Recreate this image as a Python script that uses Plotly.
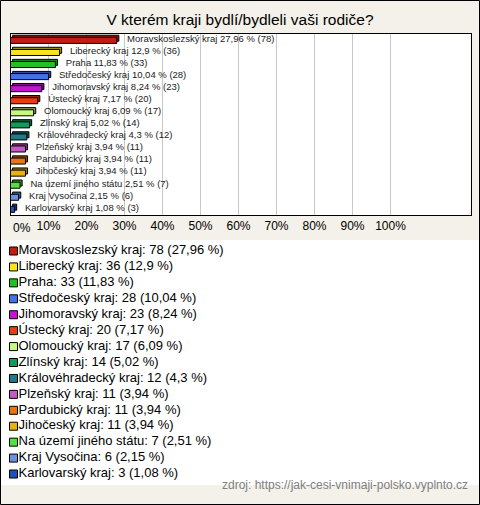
import plotly.graph_objects as go

W, H = 480, 505

categories = [
    "Moravskoslezský kraj", "Liberecký kraj", "Praha", "Středočeský kraj",
    "Jihomoravský kraj", "Ústecký kraj", "Olomoucký kraj", "Zlínský kraj",
    "Královéhradecký kraj", "Plzeňský kraj", "Pardubický kraj", "Jihočeský kraj",
    "Na území jiného státu", "Kraj Vysočina", "Karlovarský kraj",
]
counts = [78, 36, 33, 28, 23, 20, 17, 14, 12, 11, 11, 11, 7, 6, 3]
percents = [27.96, 12.9, 11.83, 10.04, 8.24, 7.17, 6.09, 5.02, 4.3, 3.94, 3.94, 3.94, 2.51, 2.15, 1.08]
percent_labels = ["27,96", "12,9", "11,83", "10,04", "8,24", "7,17", "6,09", "5,02",
                  "4,3", "3,94", "3,94", "3,94", "2,51", "2,15", "1,08"]
colors = ["#c41c12", "#f6e61e", "#22c022", "#4472e6", "#c414d0", "#e63e12", "#c8f884",
          "#129a5a", "#1f7a8a", "#c45ac4", "#e87412", "#e6b214", "#52e240", "#6a92e0", "#2252b8"]
tick_values = [0, 10, 20, 30, 40, 50, 60, 70, 80, 90, 100]
tick_labels = ["0%", "10%", "20%", "30%", "40%", "50%", "60%", "70%", "80%", "90%", "100%"]
title_text = "V kterém kraji bydlí/bydleli vaši rodiče?"
source_text = "zdroj: https://jak-cesi-vnimaji-polsko.vyplnto.cz"

FONT = "Liberation Sans, Arial, sans-serif"


def darker(hx, f=0.65):
    r, g, b = int(hx[1:3], 16), int(hx[3:5], 16), int(hx[5:7], 16)
    return "rgb(%d,%d,%d)" % (r * f, g * f, b * f)


bar_texts = ["%s %s %% (%d)" % (c, p, n) for c, p, n in zip(categories, percent_labels, counts)]
legend_texts = ["%s: %d (%s %%)" % (c, n, p) for c, p, n in zip(categories, percent_labels, counts)]
idx = list(range(len(categories)))

fig = go.Figure()

# depth (3D) bars behind
fig.add_trace(go.Bar(
    y=idx, x=percents, base=0.55, orientation="h",
    width=0.5, offset=-0.4,
    marker=dict(color=[darker(c) for c in colors], line=dict(color="black", width=1)),
    text=["  " + t for t in bar_texts], textposition="outside", constraintext="none",
    textfont=dict(family=FONT, size=9.5, color="#222"),
    cliponaxis=False, hoverinfo="skip", showlegend=False,
))
# front bars
fig.add_trace(go.Bar(
    y=idx, x=percents, orientation="h",
    width=0.5, offset=-0.22,
    marker=dict(color=colors, line=dict(color="black", width=1)),
    showlegend=False,
))

# legend drawn in a second axis system
fig.add_trace(go.Scatter(
    x=[13.5] * len(idx), y=idx, xaxis="x2", yaxis="y2", mode="markers",
    marker=dict(symbol="square", size=8, color=colors, line=dict(color="black", width=1)),
    showlegend=False, hoverinfo="skip",
))
fig.add_trace(go.Scatter(
    x=[18.5] * len(idx), y=idx, xaxis="x2", yaxis="y2", mode="text",
    text=legend_texts, textposition="middle right",
    textfont=dict(family=FONT, size=13, color="black"),
    showlegend=False, hoverinfo="skip",
))

px_per_row = 15.93
leg_top, leg_bot = 240, 485
y0 = -(251 - leg_top) / px_per_row
y1 = y0 + (leg_bot - leg_top) / px_per_row

plot_top, plot_bot = 34, 215
x_left, x_right = 10.5, 470.5
unit_px = 38.0
xmax = (x_right - x_left) / unit_px * 10

fig.update_layout(
    width=W, height=H,
    margin=dict(l=0, r=0, t=0, b=0),
    paper_bgcolor="#f3f1e9", plot_bgcolor="white",
    barmode="overlay",
    font=dict(family=FONT, color="black"),
    title=dict(text=title_text, x=0.5, xanchor="center", y=1 - 20 / H, yanchor="middle",
               font=dict(family=FONT, size=15.5, color="black")),
    xaxis=dict(domain=[x_left / W, x_right / W], range=[0, xmax],
               tickvals=tick_values, ticktext=[""] + tick_labels[1:],
               showgrid=True, gridcolor="#c8c8c8", gridwidth=1,
               showline=True, linecolor="black", linewidth=1, mirror=True,
               ticks="", zeroline=False, tickfont=dict(family=FONT, size=12, color="black"),
               fixedrange=True),
    yaxis=dict(domain=[1 - plot_bot / H, 1 - plot_top / H], range=[len(idx) - 0.5, -0.5],
               showticklabels=False, showgrid=False, zeroline=False,
               showline=True, linecolor="black", linewidth=1, mirror=True, ticks="",
               fixedrange=True),
    xaxis2=dict(domain=[0, 1], range=[0, W], visible=False, fixedrange=True),
    yaxis2=dict(domain=[1 - leg_bot / H, 1 - leg_top / H], range=[y1, y0], visible=False,
                fixedrange=True),
    shapes=[dict(type="rect", xref="paper", yref="paper",
                 x0=0.5 / W, x1=1 - 0.5 / W, y0=0.5 / H, y1=1 - 0.5 / H,
                 line=dict(color="black", width=1), fillcolor="rgba(0,0,0,0)", layer="above")],
    annotations=[
        dict(text=tick_labels[0], x=tick_values[0], xref="x", y=1 - plot_bot / H, yref="paper",
             xanchor="left", yanchor="top", yshift=-4, showarrow=False,
             font=dict(family=FONT, size=12, color="black")),
        dict(text=source_text, x=1 - 10 / W, xref="paper", y=1 - 485 / H, yref="paper",
             xanchor="right", yanchor="middle", showarrow=False,
             font=dict(family=FONT, size=12, color="#808080")),
    ],
)

fig.write_html("out.html", config={"displayModeBar": False},
               post_script="document.body.style.margin='0';document.body.style.overflow='hidden';")
